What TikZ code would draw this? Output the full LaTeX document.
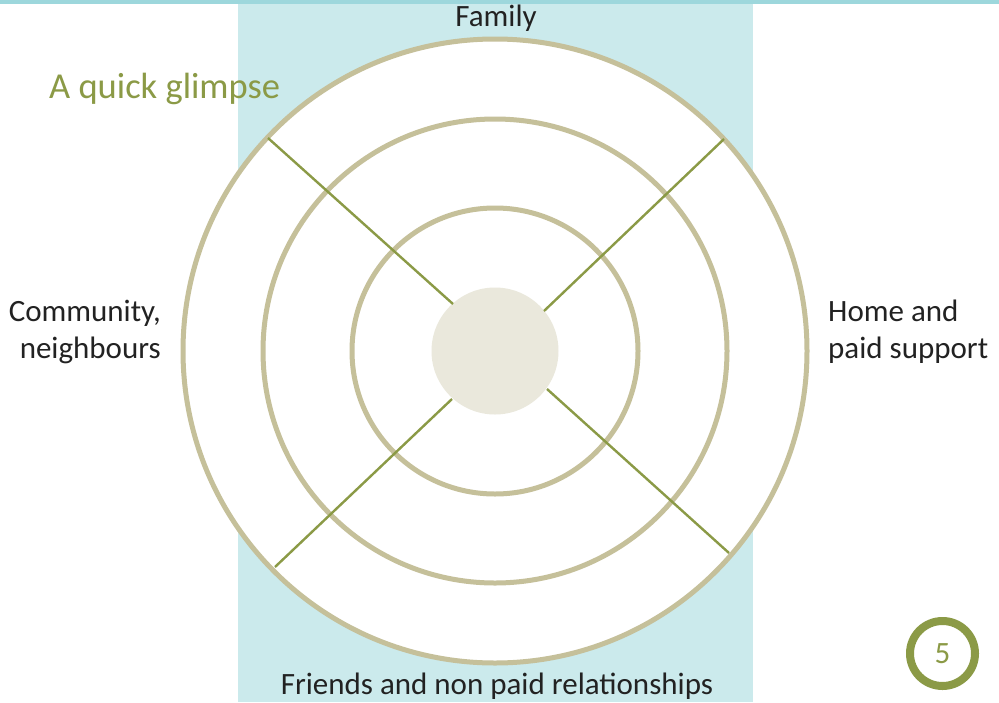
\documentclass[tikz,border=0pt]{standalone}
\usepackage{fontspec}
\setmainfont{Carlito}
\definecolor{bandblue}{HTML}{9DD7DC}
\definecolor{rectblue}{HTML}{CBEAEC}
\definecolor{ringtan}{HTML}{C5C09A}
\definecolor{olive}{HTML}{8B9A46}
\definecolor{disk}{HTML}{EAE8DC}
\definecolor{textdark}{HTML}{222222}
\begin{document}
\begin{tikzpicture}[x=1pt,y=-1pt,
  ring/.style={draw=ringtan,line width=5pt},
  spoke/.style={draw=olive,line width=2.4pt},
  lbl/.style={font=\fontsize{31}{37}\selectfont,text=textdark,inner sep=0pt}]
\useasboundingbox (0,0) rectangle (999,702);
\fill[white] (0,0) rectangle (999,702);
\fill[rectblue] (238,0) rectangle (753,702);
\fill[bandblue] (0,0) rectangle (999,4);
\coordinate (c) at (495,351);
\node[ring,circle,fill=white,minimum size=624pt,inner sep=0pt] (outer) at (c) {};
\node[ring,circle,minimum size=464pt,inner sep=0pt] (middle) at (c) {};
\node[ring,circle,minimum size=286pt,inner sep=0pt] (inner) at (c) {};
\node[circle,fill=disk,minimum size=127pt,inner sep=0pt] (core) at (c) {};
\coordinate (ul) at (268,138);
\coordinate (ur) at (724,139);
\coordinate (ll) at (275,567);
\coordinate (lr) at (729,553);
\coordinate (uli) at (453,304);
\coordinate (uri) at (544,311);
\coordinate (lli) at (452,399);
\coordinate (lri) at (547,389);
\draw[spoke] (ul) -- (uli);
\draw[spoke] (ur) -- (uri);
\draw[spoke] (ll) -- (lli);
\draw[spoke] (lr) -- (lri);
\node[font=\fontsize{36.5}{40}\selectfont,text=olive,anchor=west,inner sep=0pt] (title) at (49,89) {A quick glimpse};
\node[lbl] (family) at (496,18) {Family};
\node[lbl,align=right,anchor=east] (community) at (161,332) {Community,\\neighbours};
\node[lbl,align=left,anchor=west] (home) at (828,332) {Home and\\paid support};
\node[lbl] (friends) at (497,686) {Friends and non paid relationships};
\node[circle,draw=olive,line width=8pt,minimum size=65pt,inner sep=0pt] (pg) at (942.5,653.5) {};
\node[font=\fontsize{31}{34}\selectfont,text=olive,inner sep=0pt] (pgnum) at (pg) {5};
\end{tikzpicture}
\end{document}
